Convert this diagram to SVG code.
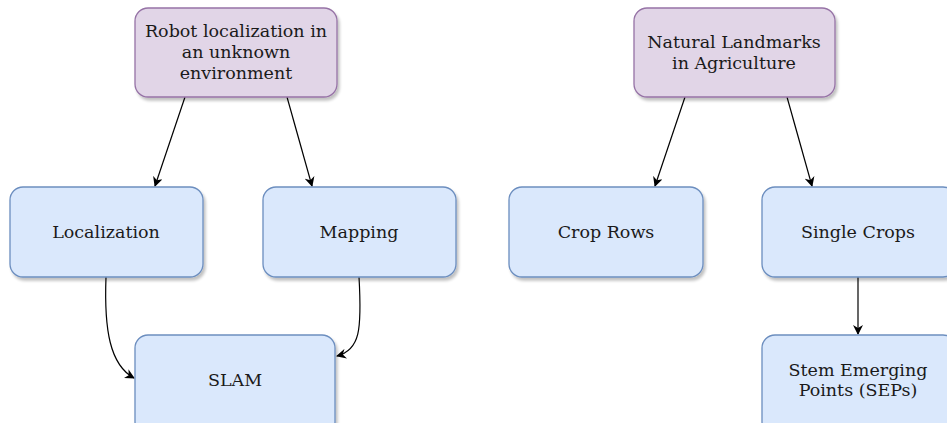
<svg xmlns="http://www.w3.org/2000/svg" width="947" height="423" viewBox="0 0 947 423">
  <style>
    .purple { fill: #e1d5e7; stroke: #9673a6; stroke-width: 1.3; }
    .blue { fill: #dae8fc; stroke: #6c8ebf; stroke-width: 1.3; }
    .node rect { filter: url(#shadow); }
    text { font-family: "DejaVu Serif", "Liberation Serif", serif; font-size: 17.5px; fill: #1a1a1a; text-anchor: middle; }
    .edge { fill: none; stroke: #000; stroke-width: 1.2; marker-end: url(#arrow); }
  </style>
  <defs>
    <filter id="shadow" x="-10%" y="-10%" width="130%" height="130%">
      <feGaussianBlur in="SourceAlpha" stdDeviation="1.5"/>
      <feOffset dx="2" dy="3" result="b"/>
      <feComponentTransfer><feFuncA type="linear" slope="0.25"/></feComponentTransfer>
      <feMerge><feMergeNode/><feMergeNode in="SourceGraphic"/></feMerge>
    </filter>
    <marker id="arrow" viewBox="0 0 10 10" refX="9" refY="5" markerWidth="10" markerHeight="10" markerUnits="userSpaceOnUse" orient="auto">
      <path d="M0,0 L10,5 L0,10 L3,5 Z" fill="#000"/>
    </marker>
  </defs>

  <g id="connectors">
    <path class="edge" d="M185,97 L155,186"/>
    <path class="edge" d="M287,97 L312,186"/>
    <path class="edge" d="M685,97 L655,186"/>
    <path class="edge" d="M787,97 L812,186"/>
    <path class="edge" d="M106,277 C104,330 110,365 134,378"/>
    <path class="edge" d="M359,277 C362,330 360,350 337,356"/>
    <path class="edge" d="M858,277 L858,334"/>
  </g>

  <g id="robot-localization" class="node">
    <rect class="purple" x="135" y="8" width="202" height="89" rx="13"/>
    <text x="236" y="37">Robot localization in</text>
    <text x="236" y="58">an unknown</text>
    <text x="236" y="79">environment</text>
  </g>
  <g id="localization" class="node">
    <rect class="blue" x="10" y="187" width="193" height="90" rx="13"/>
    <text x="106" y="238">Localization</text>
  </g>
  <g id="mapping" class="node">
    <rect class="blue" x="263" y="187" width="193" height="90" rx="13"/>
    <text x="359" y="238">Mapping</text>
  </g>
  <g id="slam" class="node">
    <rect class="blue" x="135" y="335" width="200" height="100" rx="13"/>
    <text x="235" y="386">SLAM</text>
  </g>

  <g id="natural-landmarks" class="node">
    <rect class="purple" x="634" y="8" width="201" height="89" rx="13"/>
    <text x="734" y="48">Natural Landmarks</text>
    <text x="734" y="69">in Agriculture</text>
  </g>
  <g id="crop-rows" class="node">
    <rect class="blue" x="509" y="187" width="194" height="90" rx="13"/>
    <text x="606" y="238">Crop Rows</text>
  </g>
  <g id="single-crops" class="node">
    <rect class="blue" x="762" y="187" width="194" height="90" rx="13"/>
    <text x="858" y="238">Single Crops</text>
  </g>
  <g id="stem-emerging-points" class="node">
    <rect class="blue" x="762" y="335" width="194" height="100" rx="13"/>
    <text x="858" y="376">Stem Emerging</text>
    <text x="858" y="396">Points (SEPs)</text>
  </g>
</svg>
